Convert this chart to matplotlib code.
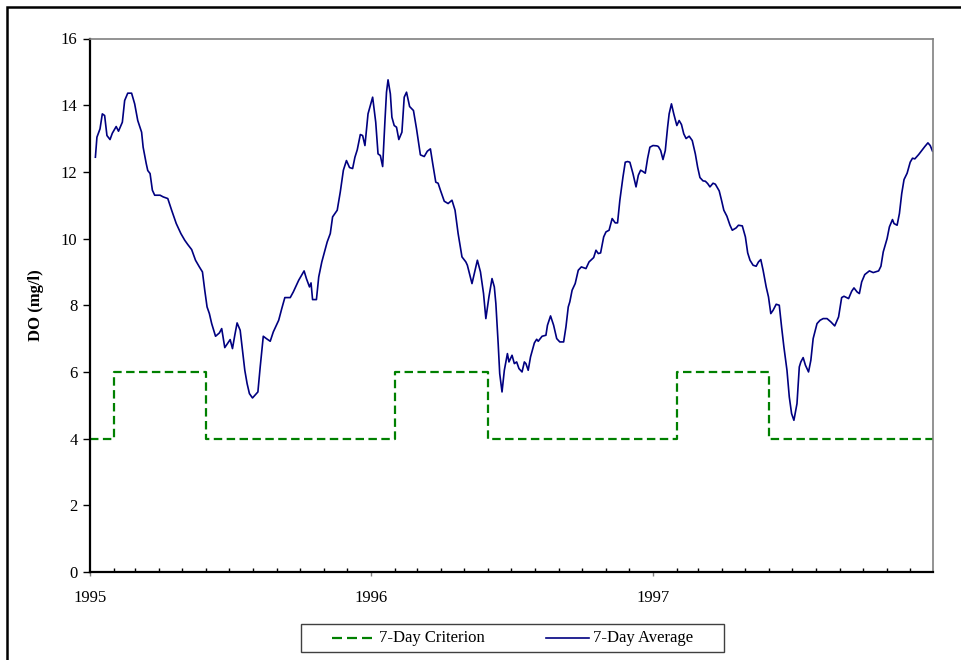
import matplotlib
matplotlib.use("Agg")
import matplotlib.pyplot as plt
from matplotlib.patches import Rectangle
from matplotlib.lines import Line2D
from matplotlib.ticker import FixedLocator

# days since 1995-01-01
avg_days = [7, 9, 13, 16, 19, 22, 26, 29, 34, 37, 42, 45, 49, 54, 58, 62, 67, 69, 73, 75,
            78, 81, 84, 91, 95, 101, 106, 112, 118, 123, 127, 132, 137, 142, 146, 149, 152, 155, 158, 163,
            168, 171, 175, 179, 182, 185, 188, 191, 195, 198, 201, 204, 207, 211, 216, 218, 221, 225, 229, 234,
            238, 245, 249, 253, 260, 264, 271, 278, 281, 285, 287, 289, 294, 297, 301, 305, 308, 312, 315, 321,
            325, 329, 333, 337, 341, 344, 347, 351, 354, 357, 361, 367, 371, 374, 377, 380, 383, 385, 387, 390,
            392, 395, 398, 401, 405, 408, 411, 415, 420, 424, 429, 434, 438, 442, 445, 449, 452, 455, 460, 465,
            470, 474, 478, 483, 488, 490, 496, 499, 503, 507, 511, 514, 518, 522, 525, 527, 530, 532, 535, 538,
            540, 542, 544, 548, 551, 554, 557, 561, 564, 566, 569, 572, 577, 580, 582, 587, 592, 594, 598, 602,
            606, 610, 615, 618, 621, 623, 626, 630, 634, 638, 644, 648, 654, 657, 660, 663, 667, 670, 674, 678,
            682, 685, 688, 692, 695, 698, 701, 705, 709, 712, 715, 718, 721, 724, 727, 731, 736, 738, 741, 744,
            747, 750, 752, 755, 758, 762, 765, 768, 771, 774, 778, 782, 786, 789, 792, 796, 799, 802, 805, 809,
            812, 817, 820, 823, 827, 831, 834, 839, 842, 847, 851, 854, 857, 861, 865, 868, 871, 874, 878, 881,
            884, 887, 891, 895, 898, 901, 905, 908, 911, 914, 918, 921, 923, 926, 929, 933, 936, 939, 944, 948,
            952, 957, 962, 967, 972, 976, 979, 985, 989, 992, 996, 999, 1002, 1006, 1012, 1017, 1024, 1027, 1030, 1035,
            1038, 1042, 1044, 1048, 1051, 1054, 1057, 1061, 1065, 1068, 1071, 1076, 1080, 1084, 1088, 1091, 1094]
avg_do = [12.44, 13.04, 13.29, 13.74, 13.69, 13.09, 12.97, 13.16, 13.36, 13.22, 13.49, 14.14, 14.36, 14.36, 14.04, 13.54, 13.19, 12.74, 12.25, 12.04,
          11.95, 11.45, 11.30, 11.30, 11.25, 11.20, 10.85, 10.45, 10.15, 9.95, 9.82, 9.67, 9.35, 9.15, 9.00, 8.45, 7.95, 7.75, 7.45, 7.07,
          7.17, 7.30, 6.73, 6.87, 6.97, 6.70, 7.10, 7.47, 7.25, 6.65, 6.05, 5.65, 5.35, 5.22, 5.35, 5.40, 6.15, 7.07, 7.00, 6.92,
          7.20, 7.55, 7.90, 8.23, 8.23, 8.40, 8.75, 9.03, 8.80, 8.55, 8.67, 8.17, 8.17, 8.85, 9.30, 9.65, 9.90, 10.15, 10.65, 10.85,
          11.40, 12.05, 12.34, 12.13, 12.10, 12.44, 12.66, 13.12, 13.09, 12.79, 13.74, 14.24, 13.49, 12.54, 12.49, 12.16, 13.54, 14.39, 14.76, 14.34,
          13.64, 13.39, 13.34, 12.97, 13.19, 14.24, 14.39, 13.96, 13.84, 13.29, 12.51, 12.46, 12.62, 12.69, 12.25, 11.69, 11.66, 11.45, 11.12, 11.05,
          11.15, 10.85, 10.15, 9.45, 9.30, 9.20, 8.65, 8.95, 9.35, 9.00, 8.35, 7.60, 8.25, 8.80, 8.55, 8.05, 6.85, 5.95, 5.40, 6.05,
          6.30, 6.55, 6.30, 6.50, 6.25, 6.30, 6.10, 6.00, 6.30, 6.25, 6.05, 6.45, 6.87, 6.98, 6.92, 7.07, 7.10, 7.40, 7.68, 7.40,
          7.00, 6.90, 6.90, 7.35, 7.95, 8.10, 8.45, 8.65, 9.05, 9.15, 9.10, 9.30, 9.43, 9.65, 9.55, 9.57, 10.05, 10.20, 10.25, 10.60,
          10.47, 10.47, 11.15, 11.84, 12.29, 12.31, 12.29, 11.95, 11.55, 11.90, 12.05, 12.01, 11.96, 12.40, 12.74, 12.79, 12.78, 12.76, 12.64, 12.37,
          12.64, 13.34, 13.74, 14.04, 13.74, 13.39, 13.54, 13.42, 13.14, 13.00, 13.07, 12.94, 12.54, 12.14, 11.83, 11.73, 11.72, 11.65, 11.55, 11.66,
          11.63, 11.43, 11.15, 10.85, 10.67, 10.40, 10.25, 10.32, 10.40, 10.38, 10.05, 9.57, 9.35, 9.20, 9.17, 9.30, 9.37, 9.05, 8.55, 8.25,
          7.75, 7.85, 8.03, 8.00, 7.35, 6.75, 6.05, 5.25, 4.75, 4.55, 5.05, 6.15, 6.30, 6.43, 6.20, 6.00, 6.35, 7.00, 7.45, 7.55,
          7.60, 7.60, 7.50, 7.38, 7.65, 8.23, 8.27, 8.20, 8.42, 8.52, 8.40, 8.35, 8.70, 8.92, 9.03, 8.98, 9.03, 9.17, 9.60, 10.00,
          10.35, 10.57, 10.45, 10.40, 10.75, 11.35, 11.77, 11.96, 12.29, 12.41, 12.39, 12.52, 12.64, 12.76, 12.87, 12.79, 12.62]

crit_days = [0, 31, 151, 396, 517, 762, 882, 1096]
crit_do = [4, 6, 4, 6, 4, 6, 4, 4]

year_days = [0, 365, 731]
year_labels = ["1995", "1996", "1997"]
month_days = [0, 31, 59, 90, 120, 151, 181, 212, 243, 273, 304, 334,
              365, 396, 425, 456, 486, 517, 547, 578, 609, 639, 670, 700,
              731, 762, 790, 821, 851, 882, 912, 943, 974, 1004, 1035, 1065]

plt.rcParams['font.family'] = ['Liberation Serif', 'DejaVu Serif']
plt.rcParams['font.size'] = 12

fig = plt.figure(figsize=(9.62, 6.6), dpi=100)
ax = fig.add_axes([90 / 962, 1 - 572 / 660, 843.3 / 962, (572 - 38.5) / 660])

ax.step(crit_days, crit_do, where='post', color='#008000', lw=1.6,
        dashes=(3.8, 2.0), label='7-Day Criterion')
ax.plot(avg_days, avg_do, color='#000080', lw=1.2, label='7-Day Average')

ax.set_xlim(0, 1095)
ax.set_ylim(0, 16)
ax.set_yticks(range(0, 17, 2))
ax.set_xticks(year_days)
ax.set_xticklabels(year_labels)
ax.xaxis.set_minor_locator(FixedLocator(month_days))

ax.tick_params(axis='y', direction='out', length=5, width=1, pad=4, colors='black')
ax.tick_params(axis='x', which='major', direction='out', length=3, width=1, pad=10,
               color='#808080')
ax.tick_params(axis='x', which='minor', direction='in', length=3, width=1)

for s in ('left', 'bottom'):
    ax.spines[s].set_linewidth(1.6)
    ax.spines[s].set_color('black')
for s in ('top', 'right'):
    ax.spines[s].set_linewidth(1.2)
    ax.spines[s].set_color('#808080')

ax.set_ylabel('DO (mg/l)', fontweight='bold')
ax.yaxis.set_label_coords(-0.0545, 0.5)

# outer chart frame (clipped by the image edge)
top = 1 - 6.7 / 660
fig.patches.append(Rectangle((7.5 / 962, -0.1), 1.2, top + 0.1,
                             transform=fig.transFigure, fill=False,
                             edgecolor='black', lw=1.8, clip_on=False))

# legend box
ly = 1 - 638 / 660
fig.patches.append(Rectangle((301 / 962, 1 - 652 / 660), 423 / 962, 28 / 660,
                             transform=fig.transFigure, fill=False,
                             edgecolor='#404040', lw=1.0))
fig.lines.append(Line2D([332 / 962, 372 / 962], [ly, ly], transform=fig.transFigure,
                        color='#008000', lw=1.6, dashes=(4.5, 2.25)))
fig.text(379 / 962, ly, '7-Day Criterion', va='center', ha='left')
fig.lines.append(Line2D([546 / 962, 589 / 962], [ly, ly], transform=fig.transFigure,
                        color='#000080', lw=1.2))
fig.text(593 / 962, ly, '7-Day Average', va='center', ha='left')

fig.savefig('out.png', dpi=100)
